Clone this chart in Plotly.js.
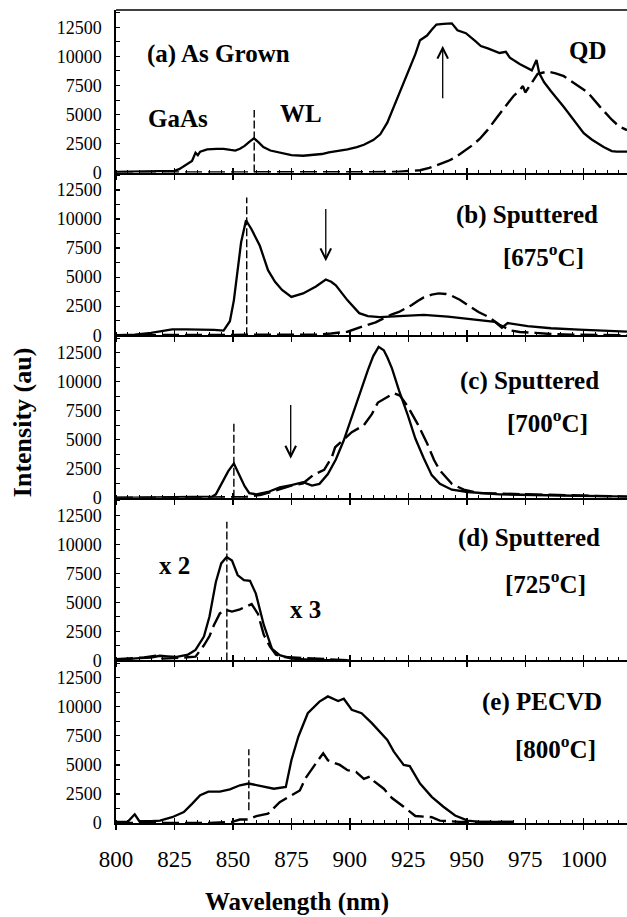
<!DOCTYPE html>
<html>
<head>
<meta charset="utf-8">
<script src="https://cdn.plot.ly/plotly-3.0.1.min.js"></script>
<style>html,body{margin:0;padding:0;background:#fff;}#chart{width:627px;height:917px;}</style>
</head>
<body>
<div id="chart"></div>
<script>
// ---- Data (wavelength nm, intensity au) ----
var wlA = [800,810,820,825,827,830,832.5,834,835,836,839,843,846,849,851,853,855,857,859,861,863,866,870,875,880,884,888,891,895,899,903,906,910,913,916,918.5,921,925,928,930,933,935,937,940,943.6,946,949.6,953.8,956,959,962,964,966.7,968.4,972.6,977.8,979.8,981,983,986,991.5,996.6,1000,1003.4,1008.5,1012,1014,1018.5];
var intA = [50,80,100,150,300,700,1000,1700,1500,1800,2000,2050,2050,1950,1900,2050,2300,2650,2950,2600,2200,1900,1700,1500,1450,1500,1600,1750,1850,2000,2200,2400,2800,3300,4300,5500,6800,8700,10200,11400,11800,12300,12750,12800,12850,12250,12000,11300,10900,10700,10450,10300,10400,9900,9350,8800,9700,8550,7800,7000,5650,4250,3400,2850,2200,1850,1800,1800];
var wlAd = [800,850,900,920,926,930,934,938,942,945,948.7,952,955.5,959,962.7,966.7,970,972.6,974,975,977.8,980.3,984.6,988,991.5,996.6,1001.7,1006.8,1012,1015,1018.5];
var intAd = [0,0,0,50,150,200,400,700,1000,1300,1800,2300,2900,3700,4700,5800,6600,7100,7450,6900,7800,8500,8700,8550,8300,7600,6900,5700,4550,4000,3650];

var wlB = [800,808,815,820,824,830,836,842,846,848.7,850.4,852,853.5,855.6,858,861.5,865,868,871,875,880,885.5,889.7,892,894,899,904,907.7,912.8,921,931.6,941.9,952,962,965,967.5,976,986,998,1008,1018.5];
var intB = [0,50,200,350,500,500,500,450,400,1200,3000,5500,8000,9900,9100,7700,5600,4600,3900,3300,3600,4200,4800,4600,4300,3000,1900,1650,1550,1650,1750,1600,1400,1150,650,1050,780,600,480,400,300];
var wlBd = [800,850,875,885.5,892,899,906,911,914,918,921,926.5,929,931.6,935,938,941,943,947,952,955,959,964,969,972.6,979.4,986,995,1018.5];
var intBd = [0,0,0,50,150,300,800,1100,1400,1800,2000,2600,2950,3250,3500,3600,3550,3450,3050,2350,2000,1600,900,400,280,200,100,50,0];

var wlC = [800,820,835,841,842.7,846,848,850.4,853,855,857,860,865,870,875,880,883.8,887,890.6,894,897.4,900.8,904.3,907.7,910,912.3,914.5,916,918,921,924.8,928,931.6,935,938.5,943.6,950.4,964,990,1018.5];
var intC = [0,50,80,100,300,1500,2300,2950,1900,1000,400,300,500,900,1100,1350,1050,1200,2050,3300,4950,7000,9100,11000,12200,13000,12700,12100,11150,9250,7100,5100,3400,1950,1200,700,500,300,200,100];
var wlCd = [800,840,855,862,866,870,875,880,884.6,889,892.3,893.7,897.4,900.8,906,909.4,912,916,918.8,921.4,924.8,929,933,936,938.5,943.6,948.7,955.5,972.6,998,1018.5];
var intCd = [0,0,50,250,500,800,1050,1250,2000,2400,3500,4350,5000,5650,6250,7200,8200,8700,9000,8800,7850,6350,4700,3250,2350,1200,700,400,300,200,100];

var wlD = [800,805,810,815,818.8,822,826,830.8,834,837.6,840,842.7,845,847.3,849.6,852,854.7,857.3,859.8,863.2,866.7,870,875,885,900];
var intD = [50,150,200,250,400,350,300,500,900,2050,3800,6750,8350,8900,8600,7350,6900,6850,5750,3050,1000,450,150,50,0];
var wlDd = [800,806,812,817,820,825,830,834,837.6,840,841.9,844.4,847,849.6,853,854.7,858,860.7,863.2,865.8,868.4,871.8,880,890,900];
var intDd = [100,200,250,400,150,200,300,320,1300,2100,3050,4050,4350,4200,4400,4550,4850,4000,2200,1200,500,300,200,80,0];

var wlE = [800,805,808,810,815,818.8,824,829,832.5,836,839.5,844.4,848.7,853,856.7,861.5,867.5,872.6,875,878,882,887,890.6,895,897.4,900.8,905,909.4,912.8,916,918.8,923,925.6,930,935,940,945,950.4,955.5,970];
var intE = [100,100,750,150,150,200,500,950,1650,2400,2700,2700,2900,3250,3400,3200,2950,3100,5400,7450,9450,10450,10900,10500,10700,9750,9450,8600,7850,7150,6150,5000,4900,3400,2250,1400,650,200,100,100];
var wlEd = [800,820,840,849.6,853,856.4,860,865,867.5,870,873.5,878.6,881,883.8,886.4,888.6,890.6,895.7,899,902.6,906,908.5,910.3,914.5,918,923,928,935,938.5,947,970];
var intEd = [0,0,0,100,300,300,600,800,1300,1800,2200,2800,3850,4700,5400,6000,5400,5000,4550,4400,3800,4000,3600,2950,2150,1400,600,500,200,100,100];

// vertical dashed markers (one per panel a..e)
var markWl = [859.1, 855.9, 850.4, 847.4, 856.8];
var markLow = [0, 0, 0, 0, 1100];
var markHigh = [5400, 11850, 6390, 11930, 6350];

// arrows (panels a, b, c)
var arrowPanel = [0, 1, 2];
var arrowWl = [939.7, 889.7, 874.7];
var arrowTail = [6270, 11000, 8120];
var arrowTip = [10920, 6360, 3370];

var xTickVals = [800, 825, 850, 875, 900, 925, 950, 975, 1000];
var xTickText = ['800', '825', '850', '875', '900', '925', '950', '975', '1000'];
var yTickVals = [0, 2500, 5000, 7500, 10000, 12500];
var yTickText = ['0', '2500', '5000', '7500', '10000', '12500'];

// text labels
var panelTitles = ['(a) As Grown', '(b) Sputtered', '(c) Sputtered', '(d) Sputtered', '(e) PECVD'];
var panelTitleAt = [[844, 10230], [975.6, 10380], [977, 10080], [976.5, 10580], [982, 10420]];
var panelTemps = ['', '[675<sup>o</sup>C]', '[700<sup>o</sup>C]', '[725<sup>o</sup>C]', '[800<sup>o</sup>C]'];
var panelTempAt = [null, [983, 6930], [984.6, 6620], [983.8, 6780], [988, 6580]];

// ---- Build figure ----
(function(){
var solids = [[wlA,intA],[wlB,intB],[wlC,intC],[wlD,intD],[wlE,intE]];
var dashes = [[wlAd,intAd],[wlBd,intBd],[wlCd,intCd],[wlDd,intDd],[wlEd,intEd]];
var FONT = 'Liberation Serif, Times New Roman, serif';
var XR = [800, 1018.5];
var YR = [0, 14000];
var LBL = 25;

var data = [];
var layout = {
  width: 627, height: 917,
  margin: {l: 116, r: 0, t: 10, b: 94},
  paper_bgcolor: '#fff', plot_bgcolor: 'rgba(0,0,0,0)',
  showlegend: false,
  font: {family: FONT, color: '#000'},
  annotations: [], shapes: []
};

function sfx(i){ return i === 0 ? '' : String(i+1); }

for (var i = 0; i < 5; i++) {
  var xa = 'x' + sfx(i), ya = 'y' + sfx(i);
  var dTop = 1 - i*0.2, dBot = 1 - (i+1)*0.2;
  data.push({x: dashes[i][0], y: dashes[i][1], xaxis: xa, yaxis: ya, mode: 'lines',
    line: {color: '#000', width: 2.4, dash: '17px,6px'}, hoverinfo: 'skip'});
  data.push({x: solids[i][0], y: solids[i][1], xaxis: xa, yaxis: ya, mode: 'lines',
    line: {color: '#000', width: 2.3}, hoverinfo: 'skip'});
  data.push({x: [markWl[i], markWl[i]], y: [markLow[i], markHigh[i]], xaxis: xa, yaxis: ya, mode: 'lines',
    line: {color: '#000', width: 1.4, dash: '8px,3px'}, hoverinfo: 'skip'});

  var xk = 'xaxis' + sfx(i), yk = 'yaxis' + sfx(i);
  layout[xk] = {
    anchor: ya, range: XR, showgrid: false, zeroline: false,
    showline: true, linecolor: '#000', linewidth: 2,
    ticks: 'outside', ticklen: 5, tickwidth: 1.5, tickcolor: '#000',
    tickmode: 'array', tickvals: xTickVals, ticktext: xTickText, showticklabels: i === 4,
    tickfont: {family: FONT, size: 23, color: '#000'}, ticklabelstandoff: 9,
    minor: {ticks: 'inside', ticklen: 3, tickwidth: 1, tickcolor: '#000', dtick: 5, tick0: 800}
  };
  layout[yk] = {
    anchor: xa, domain: [dBot, dTop], range: YR, showgrid: false, zeroline: false,
    showline: true, linecolor: '#000', linewidth: 1.6,
    ticks: 'inside', ticklen: 4, tickwidth: 1.2, tickcolor: '#000',
    tickmode: 'array', tickvals: yTickVals, ticktext: yTickText,
    tickfont: {family: FONT, size: 18, color: '#000'}, ticklabelstandoff: 9,
    minor: {ticks: 'inside', ticklen: 4, tickwidth: 1, tickcolor: '#000', dtick: 1250, tick0: 0}
  };
}

// inside stubs of major x ticks: a shadow axis per panel, overlaying that panel's x axis
for (var j = 0; j < 5; j++) {
  var baseX = 'x' + sfx(j), baseY = 'y' + sfx(j);
  var ox = 'x' + (j + 6);
  layout['xaxis' + (j + 6)] = {
    anchor: baseY, overlaying: baseX, range: XR, showgrid: false, zeroline: false, showline: false,
    ticks: 'inside', ticklen: 5, tickwidth: 1.5, tickcolor: '#000',
    tickmode: 'array', tickvals: xTickVals, ticktext: xTickText, showticklabels: false
  };
  data.push({x: [XR[0]], y: [-1000], xaxis: ox, yaxis: baseY, mode: 'markers', marker: {opacity: 0}, hoverinfo: 'skip'});
}

for (var i2 = 0; i2 < 5; i2++) {
  var xa2 = 'x' + sfx(i2), ya2 = 'y' + sfx(i2);
  layout.annotations.push({xref: xa2, yref: ya2, x: panelTitleAt[i2][0], y: panelTitleAt[i2][1],
    xanchor: 'center', yanchor: 'middle',
    text: '<b>' + panelTitles[i2] + '</b>', showarrow: false, font: {family: FONT, size: LBL, color: '#000'}});
  if (panelTemps[i2]) {
    layout.annotations.push({xref: xa2, yref: ya2, x: panelTempAt[i2][0], y: panelTempAt[i2][1],
      xanchor: 'center', yanchor: 'middle',
      text: '<b>' + panelTemps[i2] + '</b>', showarrow: false, font: {family: FONT, size: LBL, color: '#000'}});
  }
}

// arrows
for (var k = 0; k < arrowWl.length; k++) {
  var p = arrowPanel[k];
  layout.annotations.push({xref: 'x' + sfx(p), yref: 'y' + sfx(p), axref: 'x' + sfx(p), ayref: 'y' + sfx(p),
    x: arrowWl[k], y: arrowTip[k], ax: arrowWl[k], ay: arrowTail[k], text: '', showarrow: true,
    arrowhead: 5, arrowsize: 1.6, arrowwidth: 1.3, arrowcolor: '#000'});
}

// extra labels
var extra = [
  ['GaAs', 0, 826.5, 4680], ['WL', 0, 879, 5060], ['QD', 0, 1001.7, 10500],
  ['x 2', 3, 824.8, 8150], ['x 3', 3, 881.2, 4380]
];
extra.forEach(function(e){
  layout.annotations.push({xref: 'x' + sfx(e[1]), yref: 'y' + sfx(e[1]), x: e[2], y: e[3],
    xanchor: 'center', yanchor: 'middle',
    text: '<b>' + e[0] + '</b>', showarrow: false, font: {family: FONT, size: LBL, color: '#000'}});
});

// axis titles
layout.annotations.push({xref: 'paper', yref: 'paper', x: -0.184, y: 0.493, xanchor: 'center', yanchor: 'middle',
  textangle: -90, text: '<b>Intensity (au)</b>', showarrow: false, font: {family: FONT, size: 26, color: '#000'}});
layout.annotations.push({xref: 'paper', yref: 'paper', x: 0.354, y: -0.0976, xanchor: 'center', yanchor: 'middle',
  text: '<b>Wavelength (nm)</b>', showarrow: false, font: {family: FONT, size: 25, color: '#000'}});

// top frame line
layout.shapes.push({type: 'line', xref: 'paper', yref: 'paper', x0: 0, x1: 1, y0: 1, y1: 1,
  line: {color: '#000', width: 1.5}});

Plotly.newPlot('chart', data, layout, {staticPlot: true});
})();
</script>
</body>
</html>
